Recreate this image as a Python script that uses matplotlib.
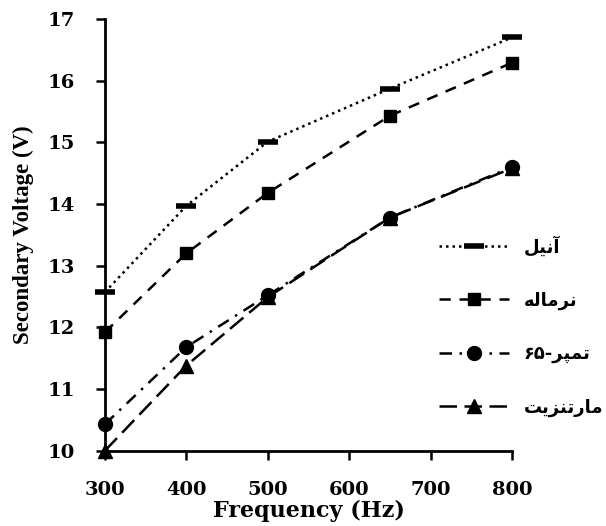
import matplotlib.pyplot as plt

freq = [300, 400, 500, 650, 800]

anneal = [12.57, 13.97, 15.01, 15.87, 16.70]
normal = [11.92, 13.20, 14.18, 15.43, 16.29]
temper = [10.43, 11.68, 12.52, 13.78, 14.60]
marten = [10.00, 11.38, 12.49, 13.78, 14.58]

# Persian labels, written in visual order with presentation forms
labels = ["\uFEDE\uFEF4\uFEE7\uFE81",                          # آنیل
          "\uFEEA\uFEDF\uFE8E\uFEE3\uFEAE\uFEE7",              # نرماله
          "\u06F6\u06F5-\uFEAE\uFB59\uFEE4\uFE97",              # تمپر-۶۵
          "\uFE96\uFEF3\uFEB0\uFEE8\uFE97\uFEAD\uFE8E\uFEE3"]  # مارتنزیت

xticks = [300, 400, 500, 600, 700, 800]
yticks = [10, 11, 12, 13, 14, 15, 16, 17]

fig = plt.figure(figsize=(6.06, 5.26), dpi=100)
ax = fig.add_axes([0.173, 0.143, 0.672, 0.821])

kw = dict(color='black', lw=1.8, clip_on=False)
ax.plot(freq, anneal, linestyle=(0, (1, 1.6)), marker='_', ms=14, mew=4, label=labels[0], **kw)
ax.plot(freq, normal, linestyle=(0, (4.5, 3.5)), marker='s', ms=9, label=labels[1], **kw)
ax.plot(freq, temper, linestyle=(0, (5, 3, 1, 3)), marker='o', ms=10, label=labels[2], **kw)
ax.plot(freq, marten, linestyle=(0, (7, 3)), marker='^', ms=10, label=labels[3], **kw)

ax.set_xlim(300, 800)
ax.set_ylim(10, 17)
ax.set_xticks(xticks)
ax.set_yticks(yticks)
for s in ['top', 'right']:
    ax.spines[s].set_visible(False)
for s in ['left', 'bottom']:
    ax.spines[s].set_linewidth(2)
ax.tick_params(axis='both', direction='out', width=1.8, length=6.5)
ax.tick_params(axis='x', pad=15)
ax.tick_params(axis='y', pad=15)
for t in ax.get_xticklabels() + ax.get_yticklabels():
    t.set_fontfamily('DejaVu Serif')
    t.set_fontweight('bold')
    t.set_fontsize(14)

ax.set_xlabel("Frequency (Hz)", family='DejaVu Serif', fontweight='bold', fontsize=16, labelpad=1)
ax.set_ylabel("Secondary Voltage (V)", family='Liberation Serif', fontweight='bold', fontsize=16.5, labelpad=10)

leg = ax.legend(loc='upper left', bbox_to_anchor=(0.78, 0.535), frameon=False,
                handlelength=3.9, handletextpad=0.8, labelspacing=1.95,
                prop={'family': 'DejaVu Sans', 'weight': 'bold', 'size': 13})

fig.savefig("out.png", dpi=100)
